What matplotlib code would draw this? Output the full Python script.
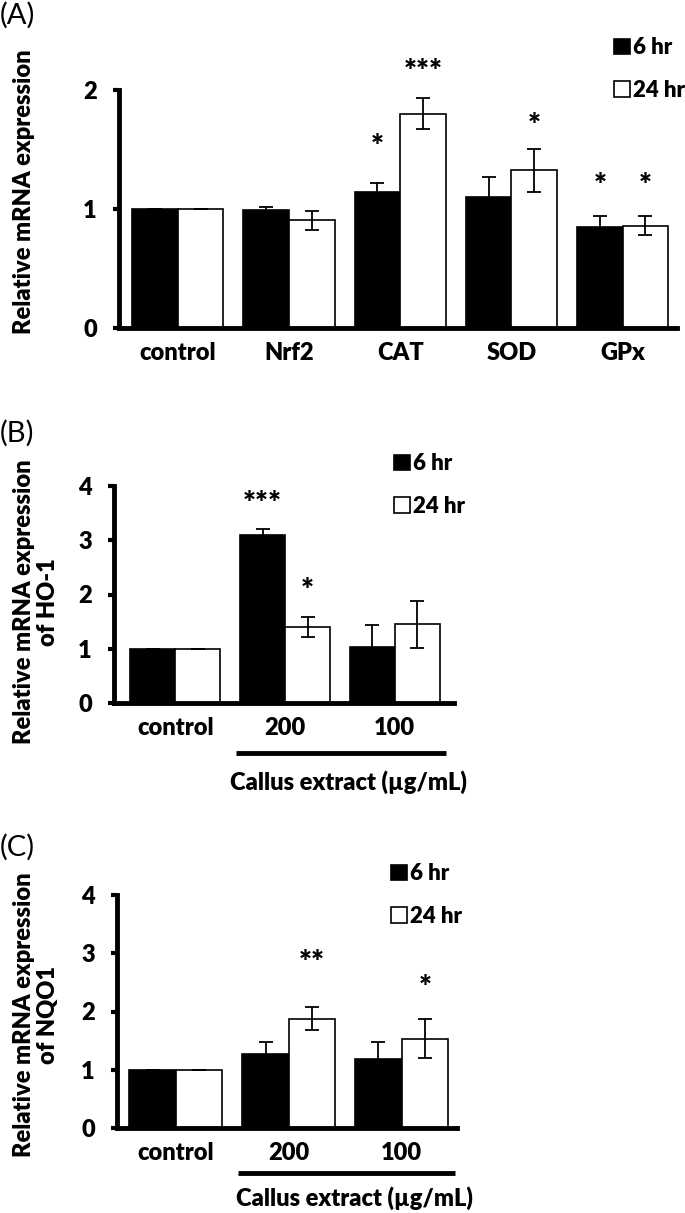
import matplotlib
matplotlib.use('Agg')
import matplotlib.pyplot as plt
from matplotlib.patches import Patch

plt.rcParams['font.family'] = ['Lato', 'DejaVu Sans']
plt.rcParams['font.weight'] = 'bold'

FS = 17
WT = 'heavy'

# panel A
genes = ['control', 'Nrf2', 'CAT', 'SOD', 'GPx']
a_6hr = [1.0, 0.99, 1.14, 1.10, 0.85]
a_6hr_err = [0.0, 0.03, 0.08, 0.17, 0.09]
a_24hr = [1.0, 0.905, 1.80, 1.325, 0.86]
a_24hr_err = [0.0, 0.08, 0.13, 0.18, 0.08]
a_stars_6hr = ['', '', '*', '', '*']
a_stars_6hr_y = [0, 0, 1.52, 0, 1.19]
a_stars_24hr = ['', '', '***', '*', '*']
a_stars_24hr_y = [0, 0, 2.15, 1.70, 1.19]

# panel B (HO-1)
doses = ['control', '200', '100']
b_6hr = [1.0, 3.09, 1.03]
b_6hr_err = [0.0, 0.12, 0.41]
b_24hr = [1.0, 1.40, 1.45]
b_24hr_err = [0.0, 0.18, 0.43]
b_stars_6hr = ['', '***', '']
b_stars_6hr_y = [0, 3.67, 0]
b_stars_24hr = ['', '*', '']
b_stars_24hr_y = [0, 2.06, 0]

# panel C (NQO1)
c_6hr = [1.0, 1.27, 1.18]
c_6hr_err = [0.0, 0.20, 0.30]
c_24hr = [1.0, 1.875, 1.535]
c_24hr_err = [0.0, 0.20, 0.33]
c_stars_6hr = ['', '', '']
c_stars_6hr_y = [0, 0, 0]
c_stars_24hr = ['', '**', '*']
c_stars_24hr_y = [0, 2.83, 2.40]

W, H = 685, 1213
fig = plt.figure(figsize=(W / 100, H / 100), dpi=100)

def px_axes(left, right, top, bottom):
    return fig.add_axes([left / W, 1 - bottom / H, (right - left) / W, (bottom - top) / H])

def draw_panel(ax, cats, v6, e6, v24, e24, s6, s6y, s24, s24y, ymax, xlim):
    w = 0.41
    x = list(range(len(cats)))
    x6 = [i - w / 2 for i in x]
    x24 = [i + w / 2 for i in x]
    ek = dict(ecolor='black', elinewidth=1.3, capsize=5, capthick=1.3)
    ax.bar(x6, v6, w, color='black', edgecolor='black', linewidth=1.2,
           yerr=e6, error_kw=ek, label='6 hr', zorder=2)
    ax.bar(x24, v24, w, color='white', edgecolor='black', linewidth=1.2,
           yerr=e24, error_kw=ek, label='24 hr', zorder=2)
    for xi, s, y in zip(x6 + x24, s6 + s24, s6y + s24y):
        if s:
            ax.text(xi, y, s, ha='center', va='center', fontsize=22, fontweight=WT)
    ax.set_xlim(*xlim)
    ax.set_ylim(0, ymax)
    ax.set_yticks(range(0, ymax + 1))
    ax.set_xticks(x)
    ax.set_xticklabels(cats)
    for s in ['top', 'right']:
        ax.spines[s].set_visible(False)
    for s in ['left', 'bottom']:
        ax.spines[s].set_linewidth(3.5)
    ax.tick_params(axis='y', direction='out', length=4, width=3, pad=12, labelsize=FS)
    ax.tick_params(axis='x', length=0, pad=10, labelsize=FS)
    for lab in ax.get_xticklabels() + ax.get_yticklabels():
        lab.set_fontweight(WT)

def draw_legend(x_px, yc_px):
    handles = [Patch(facecolor='black', edgecolor='black', linewidth=1.2, label='6 hr'),
               Patch(facecolor='white', edgecolor='black', linewidth=1.2, label='24 hr')]
    fig.legend(handles=handles, loc='center left', bbox_to_anchor=(x_px / W, 1 - yc_px / H),
               frameon=False, borderpad=0, handlelength=0.7, handleheight=0.7,
               handletextpad=0.15, labelspacing=0.95, prop={'size': 16, 'weight': WT})

def callus_bar(ax, y_line, y_text):
    ax.plot([1 - 0.45, 2 + 0.47], [y_line, y_line], color='black', lw=3.5,
            transform=ax.get_xaxis_transform(), clip_on=False, solid_capstyle='butt')
    ax.text(1.58, y_text, 'Callus extract (µg/mL)', transform=ax.get_xaxis_transform(),
            ha='center', va='center', fontsize=FS, fontweight=WT)

# A
axA = px_axes(119, 677, 90, 328)
draw_panel(axA, genes, a_6hr, a_6hr_err, a_24hr, a_24hr_err,
           a_stars_6hr, a_stars_6hr_y, a_stars_24hr, a_stars_24hr_y, 2, (-0.53, 4.49))
draw_legend(603, 69)
fig.text(0, 1 - 15 / H, '(A)', fontsize=21, fontweight='normal', ha='left', va='center')
fig.text(24 / W, 1 - 192 / H, 'Relative mRNA expression', rotation=90,
         ha='center', va='center', fontsize=FS, fontweight=WT)

# B
axB = px_axes(114, 454, 486, 703)
draw_panel(axB, doses, b_6hr, b_6hr_err, b_24hr, b_24hr_err,
           b_stars_6hr, b_stars_6hr_y, b_stars_24hr, b_stars_24hr_y, 4, (-0.56, 2.54))
callus_bar(axB, -50 / 217, -79 / 217)
draw_legend(383, 485)
fig.text(0, 1 - 433 / H, '(B)', fontsize=21, fontweight='normal', ha='left', va='center')
fig.text(36 / W, 1 - 602 / H, 'Relative mRNA expression\nof HO-1', rotation=90,
         ha='center', va='center', fontsize=FS, fontweight=WT, linespacing=1.1)

# C
axC = px_axes(117, 457, 895, 1128)
draw_panel(axC, doses, c_6hr, c_6hr_err, c_24hr, c_24hr_err,
           c_stars_6hr, c_stars_6hr_y, c_stars_24hr, c_stars_24hr_y, 4, (-0.52, 2.49))
callus_bar(axC, -45 / 233, -70 / 233)
draw_legend(380, 895)
fig.text(0, 1 - 847 / H, '(C)', fontsize=21, fontweight='normal', ha='left', va='center')
fig.text(36 / W, 1 - 1015 / H, 'Relative mRNA expression\nof NQO1', rotation=90,
         ha='center', va='center', fontsize=FS, fontweight=WT, linespacing=1.1)

fig.savefig('out.png', dpi=100)
